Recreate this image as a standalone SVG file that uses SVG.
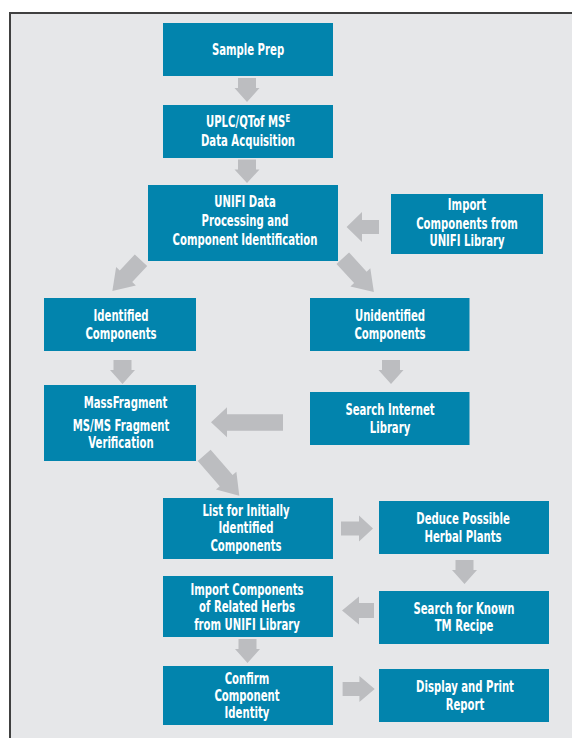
<svg xmlns="http://www.w3.org/2000/svg" width="572" height="738" viewBox="0 0 572 738">
<style>
.box{fill:#0284ad}
.arr{fill:#bcbdc0}
text{font-family:"Liberation Sans Narrow","DejaVu Sans Condensed","Roboto Condensed","Liberation Sans",sans-serif;font-stretch:condensed;font-size:15px;font-weight:bold;fill:#ffffff;text-anchor:middle}
</style>
<rect x="0" y="0" width="572" height="738" fill="#ffffff"/>
<rect x="10" y="13" width="620" height="800" fill="#e6e7e9" stroke="#404040" stroke-width="2"/>
<g id="connectors">
<polygon class="arr" points="238,78 256,78 256,88 259.5,88 247,102 234.5,88 238,88"/>
<polygon class="arr" points="238,159.5 256,159.5 256,169.5 259.5,169.5 247,183 234.5,169.5 238,169.5"/>
<polygon class="arr" points="379,220 362,220 362,212 346.6,227 362,242 362,234 379,234"/>
<polygon class="arr" transform="translate(141,260.2) rotate(133)" points="0,-8.5 22,-8.5 22,-13.5 42,0 22,13.5 22,8.5 0,8.5"/>
<polygon class="arr" transform="translate(342.8,258.2) rotate(47.5)" points="0,-8.5 26,-8.5 26,-13.5 46,0 26,13.5 26,8.5 0,8.5"/>
<polygon class="arr" points="113.5,360 131.5,360 131.5,370 135,370 122.5,384 110,370 113.5,370"/>
<polygon class="arr" points="382,360 400,360 400,370 403.5,370 391,384 378.5,370 382,370"/>
<polygon class="arr" points="283,414.3 227,414.3 227,407.3 211,422.3 227,437.3 227,430.7 283,430.7"/>
<polygon class="arr" transform="translate(204.2,455.3) rotate(49)" points="0,-8.5 33.5,-8.5 33.5,-13.5 53.5,0 33.5,13.5 33.5,8.5 0,8.5"/>
<polygon class="arr" points="341,521.5 359,521.5 359,515.5 373,528.5 359,541.5 359,535.5 341,535.5"/>
<polygon class="arr" points="455.5,560 473.5,560 473.5,570 477,570 464.5,584 452,570 455.5,570"/>
<polygon class="arr" points="374,603 359,603 359,596.5 342,610.5 359,624.5 359,618 374,618"/>
<polygon class="arr" points="238.5,639 256.5,639 256.5,649 260,649 247.5,663 235,649 238.5,649"/>
<polygon class="arr" points="342.6,682 359.4,682 359.4,676 374.7,689 359.4,702 359.4,696 342.6,696"/>
</g>
<g id="sample-prep">
<rect class="box" x="163" y="23" width="170" height="53"/>
<g transform="translate(248 0) scale(0.75 1)"><text x="0" y="55.5">Sample Prep</text></g>
</g>
<g id="uplc">
<rect class="box" x="163" y="105" width="170" height="53"/>
<g transform="translate(248 0) scale(0.75 1)">
<text x="0" y="127.5">UPLC/QTof MS<tspan font-size="10" dy="-5.5">E</tspan></text>
<text x="0" y="146">Data Acquisition</text>
</g>
</g>
<g id="unifi">
<rect class="box" x="148" y="185" width="190" height="76"/>
<g transform="translate(245 0) scale(0.75 1)">
<text x="0" y="207.5">UNIFI Data</text>
<text x="0" y="226.5">Processing and</text>
<text x="0" y="245">Component Identification</text>
</g>
</g>
<g id="import-unifi">
<rect class="box" x="391" y="194" width="152" height="60"/>
<g transform="translate(467 0) scale(0.75 1)">
<text x="0" y="210.5">Import</text>
<text x="0" y="229">Components from</text>
<text x="0" y="246">UNIFI Library</text>
</g>
</g>
<g id="identified">
<rect class="box" x="44" y="298" width="152" height="53"/>
<g transform="translate(121 0) scale(0.75 1)">
<text x="0" y="321.5">Identified</text>
<text x="0" y="339.5">Components</text>
</g>
</g>
<g id="unidentified">
<rect class="box" x="310" y="298" width="159.5" height="53"/>
<g transform="translate(390 0) scale(0.75 1)">
<text x="0" y="321.5">Unidentified</text>
<text x="0" y="339.5">Components</text>
</g>
</g>
<g id="massfragment">
<rect class="box" x="44" y="385" width="152" height="76"/>
<g transform="translate(121 0) scale(0.75 1)">
<text x="6" y="408.5">MassFragment</text>
<text x="0" y="431.5">MS/MS Fragment</text>
<text x="0" y="448.5">Verification</text>
</g>
</g>
<g id="search-internet">
<rect class="box" x="310" y="392" width="159.5" height="53"/>
<g transform="translate(390 0) scale(0.75 1)">
<text x="0" y="415">Search Internet</text>
<text x="0" y="433">Library</text>
</g>
</g>
<g id="list-initial">
<rect class="box" x="163" y="498" width="170" height="61"/>
<g transform="translate(246 0) scale(0.75 1)">
<text x="0" y="516">List for Initially</text>
<text x="0" y="533.5">Identified</text>
<text x="0" y="551">Components</text>
</g>
</g>
<g id="deduce">
<rect class="box" x="379" y="501" width="170" height="53"/>
<g transform="translate(463 0) scale(0.75 1)">
<text x="0" y="524.5">Deduce Possible</text>
<text x="0" y="542">Herbal Plants</text>
</g>
</g>
<g id="import-related">
<rect class="box" x="163" y="576" width="170" height="61"/>
<g transform="translate(247 0) scale(0.75 1)">
<text x="0" y="595">Import Components</text>
<text x="0" y="612.5">of Related Herbs</text>
<text x="0" y="630">from UNIFI Library</text>
</g>
</g>
<g id="search-tm">
<rect class="box" x="379" y="591" width="170" height="53"/>
<g transform="translate(464 0) scale(0.75 1)">
<text x="0" y="614">Search for Known</text>
<text x="0" y="631">TM Recipe</text>
</g>
</g>
<g id="confirm">
<rect class="box" x="163" y="666" width="170" height="59"/>
<g transform="translate(247 0) scale(0.75 1)">
<text x="0" y="684">Confirm</text>
<text x="0" y="701">Component</text>
<text x="0" y="718.5">Identity</text>
</g>
</g>
<g id="display">
<rect class="box" x="379" y="669" width="170" height="53"/>
<g transform="translate(465 0) scale(0.75 1)">
<text x="0" y="692.5">Display and Print</text>
<text x="0" y="710">Report</text>
</g>
</g>
</svg>
